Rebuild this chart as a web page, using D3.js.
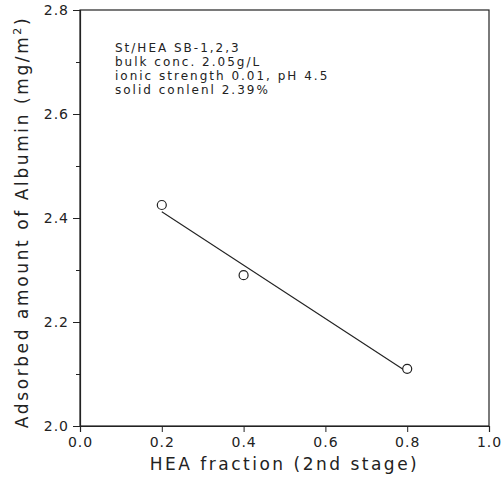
<!DOCTYPE html>
<html><head><meta charset="utf-8">
<script src="https://cdn.jsdelivr.net/npm/d3@7"></script>
<style>body{margin:0;background:#fff}svg{display:block}text{font-family:"DejaVu Sans",sans-serif;fill:#222}</style>
</head><body>
<script>
const hea = [0.2, 0.4, 0.8];
const albumin = [2.425, 2.29, 2.11];
const fitX = [0.2, 0.8];
const fitY = [2.412, 2.104];
const xTicks = [0.0, 0.2, 0.4, 0.6, 0.8, 1.0];
const yTicks = [2.0, 2.2, 2.4, 2.6, 2.8];
const yMinor = [2.1, 2.3, 2.5, 2.7];
const notes = ["St/HEA SB-1,2,3", "bulk conc. 2.05g/L", "ionic strength 0.01, pH 4.5", "solid conlenl 2.39%"];

const W = 502, H = 478;
const m = {l: 80, r: 13, t: 10, b: 52};
const svg = d3.select("body").append("svg").attr("width", W).attr("height", H);
const x = d3.scaleLinear().domain([0, 1]).range([m.l, W - m.r]);
const y = d3.scaleLinear().domain([2.0, 2.8]).range([H - m.b, m.t]);

const stroke = "#222";
svg.append("rect").attr("x", x(0)).attr("y", y(2.8)).attr("width", x(1) - x(0)).attr("height", y(2.0) - y(2.8))
  .attr("fill", "none").attr("stroke", stroke).attr("stroke-width", 1.2);

svg.append("g").attr("transform", `translate(0,${y(2.0)})`)
  .call(d3.axisBottom(x).tickValues(xTicks).tickFormat(d3.format(".1f")).tickSize(6).tickPadding(5));
svg.append("g").attr("transform", `translate(${x(0)},0)`)
  .call(d3.axisLeft(y).tickValues(yTicks).tickFormat(d3.format(".1f")).tickSize(7).tickPadding(4));
svg.append("g").attr("transform", `translate(${x(0)},0)`)
  .call(d3.axisLeft(y).tickValues(yMinor).tickFormat("").tickSize(4))
  .select(".domain").remove();
svg.selectAll(".domain").attr("stroke", stroke).attr("stroke-width", 1.2);
svg.selectAll(".tick line").attr("stroke", stroke);
svg.selectAll(".tick text").attr("font-size", 14).attr("font-family", "DejaVu Sans").attr("fill", "#444")
  .attr("letter-spacing", 1);

svg.append("path").datum(fitX.map((d, i) => [d, fitY[i]]))
  .attr("d", d3.line().x(d => x(d[0])).y(d => y(d[1])))
  .attr("stroke", stroke).attr("stroke-width", 1.1).attr("fill", "none");
svg.selectAll("circle.pt").data(hea).join("circle").attr("class", "pt")
  .attr("cx", d => x(d)).attr("cy", (d, i) => y(albumin[i])).attr("r", 4.5)
  .attr("fill", "#fff").attr("stroke", stroke).attr("stroke-width", 1.2);

svg.append("g").selectAll("text").data(notes).join("text")
  .attr("x", 115).attr("y", (d, i) => 52 + i * 14)
  .attr("font-size", 12).attr("letter-spacing", 2).text(d => d);

svg.append("text").attr("x", (x(0) + x(1)) / 2).attr("y", 470).attr("text-anchor", "middle")
  .attr("font-size", 17).attr("letter-spacing", 2.5).attr("fill", "#444").text("HEA fraction (2nd stage)");
const yt = svg.append("text").attr("transform", `translate(28,${(y(2.0) + y(2.8)) / 2 + 4}) rotate(-90)`)
  .attr("text-anchor", "middle").attr("font-size", 17).attr("letter-spacing", 2.6).attr("fill", "#444");
yt.append("tspan").text("Adsorbed amount of Albumin (mg/m");
yt.append("tspan").attr("dy", -7).attr("font-size", 11).text("2");
yt.append("tspan").attr("dy", 7).text(")");
</script>
</body></html>
